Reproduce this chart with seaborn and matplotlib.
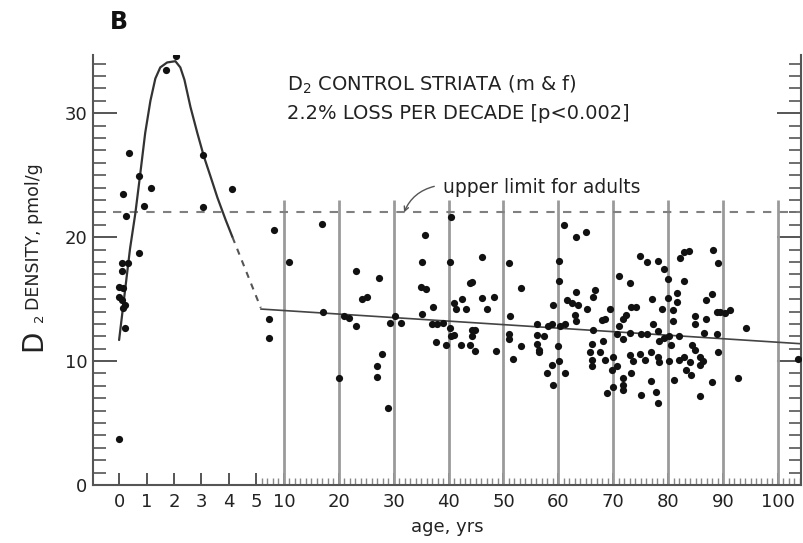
import numpy as np
import pandas as pd
import matplotlib
matplotlib.use("Agg")
import matplotlib.pyplot as plt
import seaborn as sns

# ---------------- data ----------------
child_age = [2.08, 1.72, 0.37, 0.74, 0.13, 1.16, 0.89, 0.26, 3.06, 3.05, 4.10, 0.74,
             0.10, 0.34, 0.10, 0.00, 0.16, 0.00, 0.10, 0.22, 0.16, 0.22, 0.00]
child_density = [34.6, 33.5, 26.8, 24.9, 23.5, 24.0, 22.5, 21.7, 26.6, 22.4, 23.9, 18.7,
                 17.9, 17.9, 17.3, 16.0, 15.9, 15.2, 14.9, 14.5, 14.3, 12.7, 3.7]

adult_age = [
    7.3, 7.3, 8.2, 10.9, 17.1, 16.9,
    40.4, 35.8, 35.2, 40.2, 23.2, 27.3, 35.0, 35.9, 25.2, 24.2, 37.2, 41.0, 42.4, 41.3,
    43.1, 43.9, 35.1, 21.0, 21.9, 23.2, 30.2, 29.3, 31.3, 36.9, 37.9, 39.0, 40.2, 40.4,
    41.0, 37.8, 39.5, 42.2, 27.9, 27.0, 27.0, 20.1, 29.0,
    61.0, 63.2, 65.0, 46.1, 51.0, 60.1, 44.3, 53.2, 60.1, 46.1, 48.2, 47.0, 51.2, 59.0,
    63.2, 61.5, 62.4, 63.6, 65.3, 63.0, 63.2, 66.7, 66.4, 56.2, 58.2, 58.8, 60.3, 61.2,
    44.2, 44.8, 44.3, 44.0, 44.9, 48.7, 51.1, 51.1, 53.2, 51.8, 56.1, 56.1, 56.4, 56.4,
    57.4, 60.0, 60.1, 58.8, 57.9, 61.2, 59.0, 66.4, 66.1, 65.8, 66.1, 66.1,
    74.9, 76.1, 78.2, 79.3, 82.1, 82.9, 83.8, 71.1, 73.1, 80.0, 82.9, 77.0, 80.0, 81.7,
    81.7, 78.8, 80.9, 80.8, 84.9, 84.9, 73.3, 74.2, 72.4, 71.8, 69.4, 68.5, 67.9, 71.1,
    70.6, 71.8, 73.1, 75.1, 76.1, 77.2, 78.2, 79.3, 80.2, 82.0, 78.4, 80.5, 68.2, 67.6,
    70.0, 68.5, 69.7, 70.6, 73.0, 73.6, 74.8, 75.7, 73.2, 71.8, 71.8, 71.8, 70.0, 68.8,
    76.9, 78.1, 78.4, 80.2, 81.9, 82.9, 83.2, 84.1, 81.1, 75.1, 77.8, 78.1, 76.9,
    88.1, 89.0, 87.9, 86.9, 88.9, 89.5, 90.3, 91.2, 86.9, 86.6, 88.9, 94.1, 84.3, 84.8,
    85.8, 86.4, 85.8, 84.0, 89.0, 88.0, 92.8, 85.8, 103.7]
adult_density = [
    13.4, 11.9, 20.6, 18.0, 14.0, 21.1,
    21.6, 20.2, 18.0, 18.0, 17.3, 16.7, 16.0, 15.8, 15.2, 15.0, 14.4, 14.7, 15.0, 14.2,
    14.2, 16.3, 13.8, 13.6, 13.5, 12.8, 13.6, 13.1, 13.1, 13.0, 13.0, 13.1, 12.7, 12.0,
    12.1, 11.5, 11.3, 11.3, 10.6, 9.6, 8.7, 8.6, 6.2,
    21.0, 20.0, 20.4, 18.4, 17.9, 18.1, 16.4, 15.9, 16.5, 15.1, 15.2, 14.2, 13.6, 14.5,
    15.6, 14.9, 14.65, 14.5, 14.2, 13.7, 13.2, 15.7, 15.2, 13.0, 12.8, 13.0, 12.8, 13.0,
    12.5, 12.5, 12.0, 11.3, 10.8, 10.8, 12.2, 11.8, 11.2, 10.2, 12.1, 11.4, 10.9, 10.7,
    12.0, 11.2, 10.0, 9.7, 9.0, 9.0, 8.1, 12.5, 11.4, 10.7, 10.1, 9.6,
    18.5, 18.0, 18.1, 17.4, 18.3, 18.8, 18.9, 16.9, 16.3, 16.6, 16.5, 15.0, 15.1, 15.5,
    14.8, 14.2, 14.1, 13.2, 13.6, 13.0, 14.4, 14.4, 13.7, 13.4, 14.2, 13.4, 13.3, 12.8,
    12.2, 11.8, 12.3, 12.2, 12.2, 13.0, 12.4, 11.9, 12.0, 12.0, 11.6, 11.3, 11.6, 10.7,
    10.3, 10.1, 9.3, 9.6, 10.5, 10.0, 10.6, 10.1, 9.0, 8.6, 8.1, 7.7, 7.9, 7.4,
    8.4, 10.3, 9.9, 10.0, 10.1, 10.3, 9.3, 8.9, 8.5, 7.3, 7.5, 6.6, 10.7,
    18.95, 17.9, 15.4, 14.9, 14.0, 14.0, 13.9, 14.1, 13.4, 12.3, 12.2, 12.7, 11.3, 10.9,
    10.3, 10.0, 9.7, 9.9, 10.7, 8.3, 8.6, 7.2, 10.2]

curve_age = [0.00, 0.40, 0.59, 0.77, 0.95, 1.14, 1.32, 1.50, 1.75, 2.05, 2.23, 2.38,
             2.60, 2.85, 3.09, 3.33, 3.58, 3.88, 4.13]
curve_density = [11.7, 19.1, 21.9, 25.1, 28.4, 31.0, 32.8, 33.7, 34.1, 34.2, 33.7, 32.7,
                 30.5, 28.4, 26.5, 24.9, 23.2, 21.4, 20.0]
bridge_age = [4.13, 5.8]
bridge_density = [20.0, 14.3]
trend_age = [5.8, 104.2]
trend_density = [14.2, 11.4]

upper_limit = 22.0
decade_lines = [10, 20, 30, 40, 50, 60, 70, 80, 90, 100]
decade_line_top = 23.0

x_major = [0, 1, 2, 3, 4, 5, 10, 20, 30, 40, 50, 60, 70, 80, 90, 100]
x_major_labels = ["0", "1", "2", "3", "4", "5", "10", "20", "30", "40", "50",
                  "60", "70", "80", "90", "100"]
x_minor = [a for a in range(6, 105) if a % 10 != 0]
y_major = [0, 10, 20, 30]
y_minor = [v for v in range(1, 35) if v % 10 != 0]

# ---------------- styling ----------------
sns.set_theme(style="ticks")
plt.rcParams["font.family"] = ["DejaVu Sans"]
plt.rcParams["mathtext.fontset"] = "dejavusans"

INK = "#111111"
AXC = "#555555"
TXT = "#222222"


def fwd(a):
    a = np.asarray(a, dtype=float)
    return np.where(a <= 5, 5.0 * a, 20.0 + a)


def inv(u):
    u = np.asarray(u, dtype=float)
    return np.where(u <= 25, u / 5.0, u - 20.0)


fig = plt.figure(figsize=(8.04, 5.43), dpi=100)
ax = fig.add_axes([0.1157, 0.1068, 0.8806, 0.7919])
ax.set_xscale("function", functions=(fwd, inv))

# vertical decade lines and upper-limit dashed line
ax.vlines(decade_lines, 0, decade_line_top, colors="#9a9a9a", linewidth=2.0, zorder=1)
ax.hlines(upper_limit, -0.22, 104.2, colors="#808080", linewidth=1.5,
          linestyles=(0, (4, 4)), zorder=1)

# fitted curves
sns.lineplot(x=curve_age, y=curve_density, ax=ax, color="#333333", linewidth=1.6,
             sort=False, estimator=None, zorder=2)
sns.lineplot(x=bridge_age, y=bridge_density, ax=ax, color="#555555", linewidth=1.5,
             sort=False, estimator=None, linestyle=(0, (3, 3)), zorder=2)
sns.lineplot(x=trend_age, y=trend_density, ax=ax, color="#444444", linewidth=1.2,
             sort=False, estimator=None, zorder=2)

pts = pd.DataFrame({"age": child_age + adult_age,
                    "density": child_density + adult_density})
sns.scatterplot(data=pts, x="age", y="density", ax=ax, s=27, color=INK,
                linewidth=0, legend=False, zorder=3)

ax.set_xlim(-0.95, 104.2)
ax.set_ylim(0, 34.7)

ax.set_xticks(x_major)
ax.set_xticklabels(x_major_labels)
ax.set_xticks(x_minor, minor=True)
ax.set_yticks(y_major)
ax.set_yticklabels([str(v) for v in y_major])
ax.set_yticks(y_minor, minor=True)

ax.tick_params(axis="x", which="major", direction="in", length=8.5, width=1.4,
               color=AXC, labelsize=13, pad=6, labelcolor=TXT)
ax.tick_params(axis="x", which="minor", direction="in", length=5, width=1.0,
               color="#888888")
ax.tick_params(axis="y", which="major", direction="in", length=17, width=1.4,
               left=True, right=True, labelleft=True, labelright=False,
               color=AXC, labelsize=13, pad=4, labelcolor=TXT)
ax.tick_params(axis="y", which="minor", direction="in", length=9, width=1.2,
               left=True, right=True, color=AXC)

for side in ["left", "right", "bottom"]:
    ax.spines[side].set_color(AXC)
    ax.spines[side].set_linewidth(1.5)
ax.spines["top"].set_visible(False)

ax.set_xlabel("age, yrs", fontsize=13, color=TXT, labelpad=5)
ax.set_ylabel("")

# annotations
ax.text(10.6, 32.3, r"D$_\mathregular{2}$ CONTROL STRIATA (m & f)", fontsize=14,
        color=TXT, ha="left", va="center")
ax.text(10.6, 30.0, "2.2% LOSS PER DECADE [p<0.002]", fontsize=14, color=TXT,
        ha="left", va="center")
ax.text(39.0, 24.0, "upper limit for adults", fontsize=13.5, color=TXT,
        ha="left", va="center")
ax.annotate("", xy=(31.9, 22.0), xytext=(37.4, 24.1),
            arrowprops=dict(arrowstyle="->", color="#555555", lw=1.0,
                            mutation_scale=8, connectionstyle="arc3,rad=0.25",
                            shrinkA=0, shrinkB=0))

# panel letter and y label
fig.text(119 / 804, 1 - 22 / 543, "B", fontsize=17, fontweight="bold",
         ha="center", va="center", color="#111111")
fig.text(33 / 804, 1 - 351 / 543, "D", fontsize=20, rotation=90,
         ha="center", va="bottom", color=TXT)
fig.text(40 / 804, 1 - 322 / 543, "2", fontsize=9.5, rotation=90,
         ha="center", va="bottom", color=TXT)
fig.text(34 / 804, 1 - 310 / 543, "DENSITY, pmol/g", fontsize=12.5, rotation=90,
         ha="center", va="bottom", color=TXT)

fig.savefig("out.png", dpi=100)
